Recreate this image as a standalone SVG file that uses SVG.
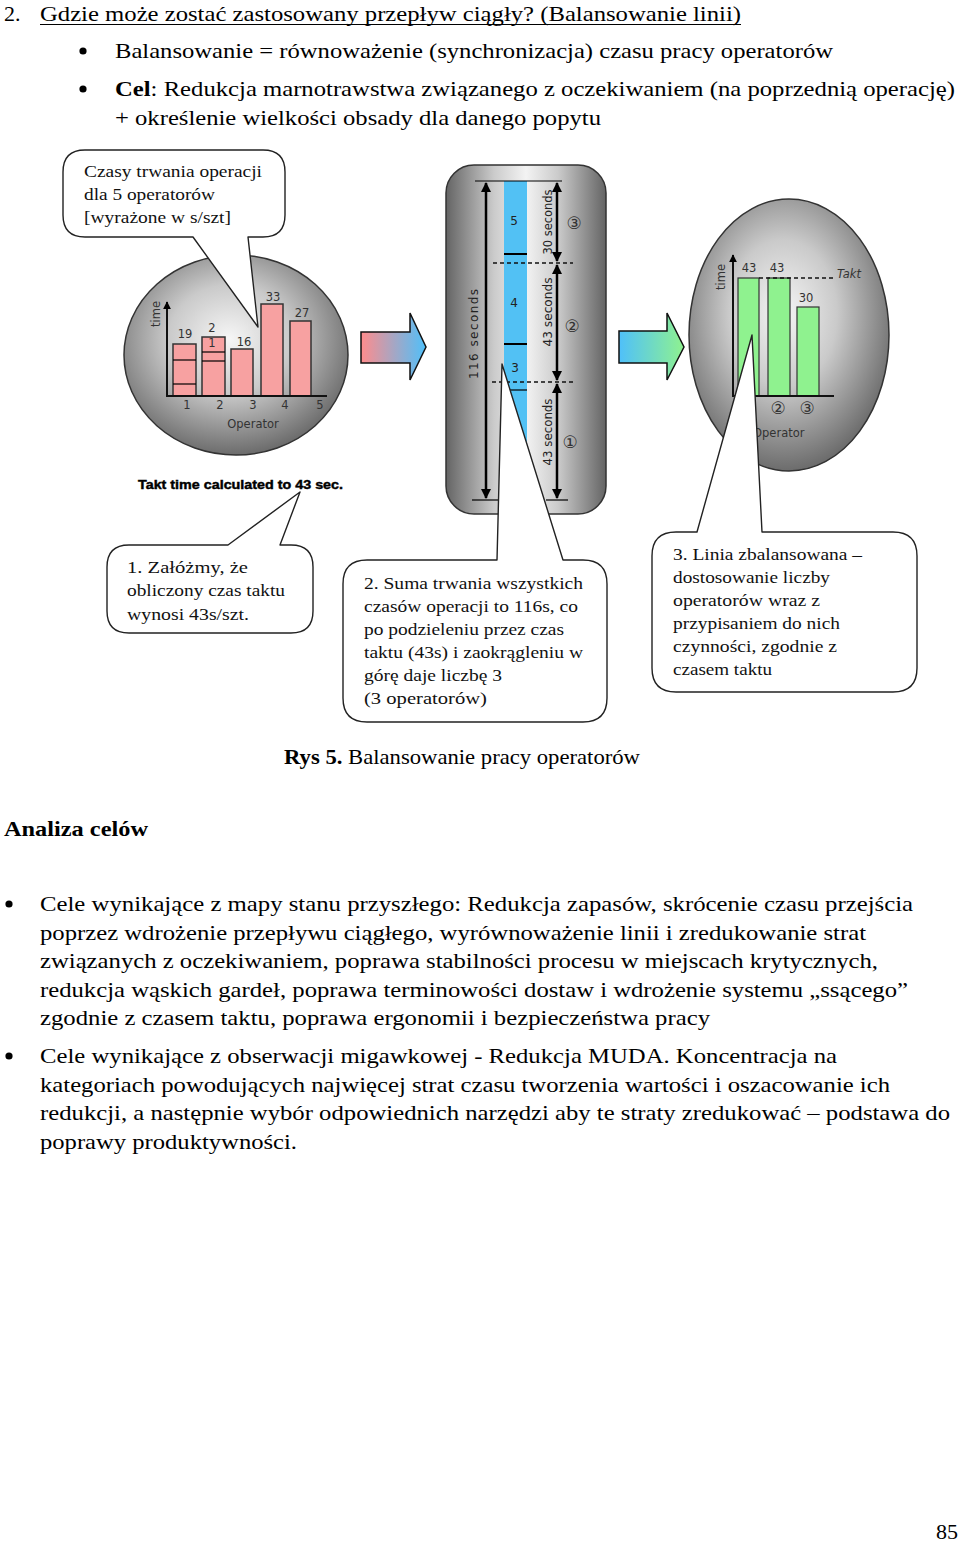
<svg xmlns="http://www.w3.org/2000/svg" width="960" height="1545" viewBox="0 0 960 1545">
<style>
.body{font-family:"Liberation Serif",serif;font-size:22px;fill:#000}
.bold{font-weight:bold}
.co{font-family:"Liberation Serif",serif;font-size:17px;fill:#111}
.ch{font-family:"DejaVu Sans",sans-serif;font-size:11.5px;fill:#333}
.dim{font-family:"DejaVu Sans",sans-serif;font-size:12px;fill:#222}
.circ{font-family:"DejaVu Sans",sans-serif;font-size:17px;fill:#333}
.callout{fill:#fff;stroke:#222;stroke-width:1.4;stroke-linejoin:round}
.axis{stroke:#111;stroke-width:2;fill:none}
.pink{fill:#f7a1a1;stroke:#333;stroke-width:1.5}
.green{fill:#8ff28f;stroke:#333;stroke-width:1.2}
.dash{stroke:#111;stroke-width:1.5;stroke-dasharray:4 3;fill:none}
.dimline{stroke:#000;stroke-width:2.5;fill:none}
.thin{stroke:#000;stroke-width:1.2;fill:none}
</style>
<defs>
<radialGradient id="gCircle" cx="0.47" cy="0.42" r="0.6">
<stop offset="0" stop-color="#f6f6f6"/>
<stop offset="0.45" stop-color="#cacaca"/>
<stop offset="1" stop-color="#666666"/>
</radialGradient>
<linearGradient id="gPanel" x1="0" y1="0" x2="1" y2="0">
<stop offset="0" stop-color="#646464"/>
<stop offset="0.3" stop-color="#cbcbcb"/>
<stop offset="0.5" stop-color="#f3f3f3"/>
<stop offset="0.7" stop-color="#cbcbcb"/>
<stop offset="1" stop-color="#646464"/>
</linearGradient>
<linearGradient id="gArrow1" x1="0" y1="0" x2="1" y2="0">
<stop offset="0" stop-color="#ff8c8c"/>
<stop offset="1" stop-color="#4fc0fa"/>
</linearGradient>
<linearGradient id="gArrow2" x1="0" y1="0" x2="1" y2="0">
<stop offset="0" stop-color="#4fc0fa"/>
<stop offset="1" stop-color="#8ff28f"/>
</linearGradient>
<marker id="ah" viewBox="0 0 10 10" refX="9" refY="5" markerWidth="4" markerHeight="4" orient="auto-start-reverse">
<path d="M0,0 L10,5 L0,10 Z" fill="#000"/>
</marker>
</defs>

<!-- header text -->
<g id="header">
<text class="body" x="4" y="21">2.</text>
<text class="body" x="40" y="21" textLength="701" lengthAdjust="spacingAndGlyphs">Gdzie może zostać zastosowany przepływ ciągły? (Balansowanie linii)</text>
<line x1="40" y1="24.5" x2="741" y2="24.5" stroke="#000" stroke-width="1.2"/>
<circle cx="83" cy="51" r="3.6" fill="#000"/>
<text class="body" x="115" y="58" textLength="718" lengthAdjust="spacingAndGlyphs">Balansowanie = równoważenie (synchronizacja) czasu pracy operatorów</text>
<circle cx="83" cy="89" r="3.6" fill="#000"/>
<text class="body" x="115" y="96" textLength="840" lengthAdjust="spacingAndGlyphs"><tspan class="bold">Cel</tspan>: Redukcja marnotrawstwa związanego z oczekiwaniem (na poprzednią operację)</text>
<text class="body" x="115" y="125" textLength="486" lengthAdjust="spacingAndGlyphs">+ określenie wielkości obsady dla danego popytu</text>
</g>

<!-- left chart circle -->
<g id="chart-before">
<ellipse cx="236" cy="355" rx="112" ry="100" fill="url(#gCircle)" stroke="#333" stroke-width="1.5"/>
<rect class="pink" x="173" y="344" width="23" height="52"/>
<line class="thin" x1="173" y1="360" x2="196" y2="360" stroke-width="1.5"/>
<line class="thin" x1="173" y1="384" x2="196" y2="384" stroke-width="1.5"/>
<rect class="pink" x="202" y="337" width="23" height="59"/>
<line class="thin" x1="202" y1="352" x2="225" y2="352" stroke-width="1.5"/>
<line class="thin" x1="202" y1="361" x2="225" y2="361" stroke-width="1.5"/>
<rect class="pink" x="231" y="349" width="22" height="47"/>
<rect class="pink" x="261" y="304" width="22" height="92"/>
<rect class="pink" x="290" y="321" width="21" height="75"/>
<line class="axis" x1="167" y1="396" x2="167" y2="302" marker-end="url(#ah)"/>
<line class="axis" x1="166" y1="396" x2="327" y2="396"/>
<text class="ch" x="185" y="338" text-anchor="middle">19</text>
<text class="ch" x="212" y="332" text-anchor="middle">2</text>
<text class="ch" x="212" y="347" text-anchor="middle">1</text>
<text class="ch" x="244" y="346" text-anchor="middle">16</text>
<text class="ch" x="273" y="301" text-anchor="middle">33</text>
<text class="ch" x="302" y="317" text-anchor="middle">27</text>
<text class="ch" x="187" y="409" text-anchor="middle" font-size="13">1</text>
<text class="ch" x="220" y="409" text-anchor="middle" font-size="13">2</text>
<text class="ch" x="253" y="409" text-anchor="middle" font-size="13">3</text>
<text class="ch" x="285" y="409" text-anchor="middle" font-size="13">4</text>
<text class="ch" x="320" y="409" text-anchor="middle" font-size="13">5</text>
<text class="ch" x="253" y="428" text-anchor="middle" font-size="14">Operator</text>
<text class="ch" x="160" y="314" text-anchor="middle" font-size="14" transform="rotate(-90 160 314)">time</text>
<text x="138" y="489" font-family="Liberation Sans,sans-serif" font-weight="bold" font-size="12" fill="#000" stroke="#000" stroke-width="0.4" textLength="205" lengthAdjust="spacingAndGlyphs">Takt time calculated to 43 sec.</text>
</g>

<!-- block arrows -->
<g id="arrow-1">
<g stroke="url(#gArrow1)" stroke-width="1.3">
<line x1="361" y1="317" x2="424" y2="317"/><line x1="361" y1="320" x2="424" y2="320"/>
<line x1="361" y1="324" x2="424" y2="324"/><line x1="361" y1="327" x2="424" y2="327"/>
<line x1="361" y1="367" x2="424" y2="367"/><line x1="361" y1="370" x2="424" y2="370"/>
<line x1="361" y1="374" x2="424" y2="374"/><line x1="361" y1="377" x2="424" y2="377"/>
</g>
<polygon points="361,332 410,332 410,313 426,347 410,380 410,363 361,363" fill="url(#gArrow1)" stroke="#111" stroke-width="1.5"/>
</g>
<g id="arrow-2">
<g stroke="url(#gArrow2)" stroke-width="1.3">
<line x1="619" y1="317" x2="682" y2="317"/><line x1="619" y1="320" x2="682" y2="320"/>
<line x1="619" y1="324" x2="682" y2="324"/><line x1="619" y1="327" x2="682" y2="327"/>
<line x1="619" y1="367" x2="682" y2="367"/><line x1="619" y1="370" x2="682" y2="370"/>
<line x1="619" y1="374" x2="682" y2="374"/><line x1="619" y1="377" x2="682" y2="377"/>
</g>
<polygon points="619,331 667,331 667,313 684,347 667,380 667,363 619,363" fill="url(#gArrow2)" stroke="#111" stroke-width="1.5"/>
</g>

<!-- middle panel -->
<g id="panel-sum">
<rect x="446" y="165" width="160" height="349" rx="28" fill="url(#gPanel)" stroke="#333" stroke-width="1.5"/>
<rect x="504" y="181" width="23" height="300" fill="#52c1f4"/>
<line x1="504" y1="254" x2="527" y2="254" stroke="#000" stroke-width="2"/>
<line x1="504" y1="344" x2="527" y2="344" stroke="#000" stroke-width="2"/>
<line x1="504" y1="390" x2="527" y2="390" stroke="#000" stroke-width="1.2"/>
<text class="dim" x="514" y="225" text-anchor="middle" font-size="13">5</text>
<text class="dim" x="514" y="307" text-anchor="middle" font-size="13">4</text>
<text class="dim" x="515" y="372" text-anchor="middle" font-size="13">3</text>
<line class="thin" x1="475" y1="181" x2="562" y2="181"/>
<line class="thin" x1="472" y1="500" x2="500" y2="500"/>
<line class="thin" x1="546" y1="500" x2="568" y2="500"/>
<line class="dash" x1="493" y1="263" x2="573" y2="263" stroke-width="1.2"/>
<line class="dash" x1="492" y1="382" x2="573" y2="382" stroke-width="1.2"/>
<line class="dimline" x1="486" y1="183" x2="486" y2="498" marker-start="url(#ah)" marker-end="url(#ah)"/>
<line class="dimline" x1="557" y1="183" x2="557" y2="261" stroke-width="2" marker-start="url(#ah)" marker-end="url(#ah)"/>
<line class="dimline" x1="557" y1="265" x2="557" y2="380" stroke-width="2" marker-start="url(#ah)" marker-end="url(#ah)"/>
<line class="dimline" x1="557" y1="384" x2="557" y2="498" stroke-width="2" marker-start="url(#ah)" marker-end="url(#ah)"/>
<text class="dim" x="478" y="334" text-anchor="middle" font-size="13.5" textLength="90" lengthAdjust="spacing" transform="rotate(-90 478 334)">116 seconds</text>
<text class="dim" x="552" y="222" text-anchor="middle" textLength="65" lengthAdjust="spacingAndGlyphs" transform="rotate(-90 552 222)">30 seconds</text>
<text class="dim" x="552" y="312" text-anchor="middle" textLength="69" lengthAdjust="spacingAndGlyphs" transform="rotate(-90 552 312)">43 seconds</text>
<text class="dim" x="552" y="432" text-anchor="middle" textLength="67" lengthAdjust="spacingAndGlyphs" transform="rotate(-90 552 432)">43 seconds</text>
<text class="circ" x="574" y="229" text-anchor="middle">③</text>
<text class="circ" x="572" y="332" text-anchor="middle">②</text>
<text class="circ" x="570" y="448" text-anchor="middle">①</text>
</g>

<!-- right chart -->
<g id="chart-after">
<ellipse cx="789" cy="335" rx="100" ry="136" fill="url(#gCircle)" stroke="#333" stroke-width="1.5"/>
<rect class="green" x="738" y="278" width="21" height="118"/>
<rect class="green" x="768" y="278" width="22" height="118"/>
<rect class="green" x="797" y="307" width="22" height="89"/>
<line class="dash" x1="759" y1="278" x2="834" y2="278"/>
<line class="axis" x1="733" y1="396" x2="733" y2="255" marker-end="url(#ah)"/>
<line class="axis" x1="732" y1="396" x2="834" y2="396"/>
<text class="ch" x="749" y="272" text-anchor="middle">43</text>
<text class="ch" x="777" y="272" text-anchor="middle">43</text>
<text class="ch" x="806" y="302" text-anchor="middle">30</text>
<text class="ch" x="837" y="278" font-style="italic" font-size="13">Takt</text>
<text class="ch" x="725" y="277" text-anchor="middle" font-size="14" transform="rotate(-90 725 277)">time</text>
<text class="circ" x="778" y="414" text-anchor="middle">②</text>
<text class="circ" x="807" y="414" text-anchor="middle">③</text>
<text class="ch" x="753" y="437" font-size="14">Operator</text>
</g>

<!-- callouts -->
<g id="callout-times">
<path class="callout" d="M85,150 H263 Q285,150 285,172 V215 Q285,237 263,237 H248 L258,327 L193,237 H85 Q63,237 63,215 V172 Q63,150 85,150 Z"/>
<text class="co" x="84" y="177" textLength="178" lengthAdjust="spacingAndGlyphs">Czasy trwania operacji</text>
<text class="co" x="84" y="200" textLength="131" lengthAdjust="spacingAndGlyphs">dla 5 operatorów</text>
<text class="co" x="84" y="223" textLength="147" lengthAdjust="spacingAndGlyphs">[wyrażone w s/szt]</text>
</g>
<g id="callout-1">
<path class="callout" d="M129,545 H228 L300,492 L280,545 H291 Q313,545 313,567 V611 Q313,633 291,633 H129 Q107,633 107,611 V567 Q107,545 129,545 Z"/>
<text class="co" x="127" y="573" textLength="121" lengthAdjust="spacingAndGlyphs">1. Załóżmy, że</text>
<text class="co" x="127" y="596" textLength="158" lengthAdjust="spacingAndGlyphs">obliczony czas taktu</text>
<text class="co" x="127" y="620" textLength="122" lengthAdjust="spacingAndGlyphs">wynosi 43s/szt.</text>
</g>
<g id="callout-2">
<path class="callout" d="M367,560 H497 L502,364 L563,560 H583 Q607,560 607,584 V698 Q607,722 583,722 H367 Q343,722 343,698 V584 Q343,560 367,560 Z"/>
<text class="co" x="364" y="589" textLength="219" lengthAdjust="spacingAndGlyphs">2. Suma trwania wszystkich</text>
<text class="co" x="364" y="612" textLength="214" lengthAdjust="spacingAndGlyphs">czasów operacji to 116s, co</text>
<text class="co" x="364" y="635" textLength="200" lengthAdjust="spacingAndGlyphs">po podzieleniu przez czas</text>
<text class="co" x="364" y="658" textLength="219" lengthAdjust="spacingAndGlyphs">taktu (43s) i zaokrągleniu w</text>
<text class="co" x="364" y="681" textLength="138" lengthAdjust="spacingAndGlyphs">górę daje liczbę 3</text>
<text class="co" x="364" y="704" textLength="123" lengthAdjust="spacingAndGlyphs">(3 operatorów)</text>
</g>
<g id="callout-3">
<path class="callout" d="M676,532 H697 L752,335 L762,532 H893 Q917,532 917,556 V668 Q917,692 893,692 H676 Q652,692 652,668 V556 Q652,532 676,532 Z"/>
<text class="co" x="673" y="560" textLength="189" lengthAdjust="spacingAndGlyphs">3. Linia zbalansowana –</text>
<text class="co" x="673" y="583" textLength="157" lengthAdjust="spacingAndGlyphs">dostosowanie liczby</text>
<text class="co" x="673" y="606" textLength="147" lengthAdjust="spacingAndGlyphs">operatorów wraz z</text>
<text class="co" x="673" y="629" textLength="167" lengthAdjust="spacingAndGlyphs">przypisaniem do nich</text>
<text class="co" x="673" y="652" textLength="164" lengthAdjust="spacingAndGlyphs">czynności, zgodnie z</text>
<text class="co" x="673" y="675" textLength="99" lengthAdjust="spacingAndGlyphs">czasem taktu</text>
</g>
<g id="connectors"></g>

<!-- caption and body -->
<g id="caption">
<text class="body" x="284" y="764" textLength="356" lengthAdjust="spacingAndGlyphs"><tspan class="bold">Rys 5.</tspan> Balansowanie pracy operatorów</text>
<text class="body bold" x="4" y="836" textLength="144" lengthAdjust="spacingAndGlyphs">Analiza celów</text>
</g>
<g id="body-text">
<circle cx="9" cy="904" r="3.6" fill="#000"/>
<text class="body" x="40" y="911" textLength="873" lengthAdjust="spacingAndGlyphs">Cele wynikające z mapy stanu przyszłego: Redukcja zapasów, skrócenie czasu przejścia</text>
<text class="body" x="40" y="940" textLength="826" lengthAdjust="spacingAndGlyphs">poprzez wdrożenie przepływu ciągłego, wyrównoważenie linii i zredukowanie strat</text>
<text class="body" x="40" y="968" textLength="838" lengthAdjust="spacingAndGlyphs">związanych z oczekiwaniem, poprawa stabilności procesu w miejscach krytycznych,</text>
<text class="body" x="40" y="997" textLength="868" lengthAdjust="spacingAndGlyphs">redukcja wąskich gardeł, poprawa terminowości dostaw i wdrożenie systemu „ssącego”</text>
<text class="body" x="40" y="1025" textLength="670" lengthAdjust="spacingAndGlyphs">zgodnie z czasem taktu, poprawa ergonomii i bezpieczeństwa pracy</text>
<circle cx="9" cy="1056" r="3.6" fill="#000"/>
<text class="body" x="40" y="1063" textLength="797" lengthAdjust="spacingAndGlyphs">Cele wynikające z obserwacji migawkowej - Redukcja MUDA. Koncentracja na</text>
<text class="body" x="40" y="1092" textLength="850" lengthAdjust="spacingAndGlyphs">kategoriach powodujących najwięcej strat czasu tworzenia wartości i oszacowanie ich</text>
<text class="body" x="40" y="1120" textLength="910" lengthAdjust="spacingAndGlyphs">redukcji, a następnie wybór odpowiednich narzędzi aby te straty zredukować – podstawa do</text>
<text class="body" x="40" y="1149" textLength="257" lengthAdjust="spacingAndGlyphs">poprawy produktywności.</text>
<text class="body" x="958" y="1539" text-anchor="end" font-size="21">85</text>
</g>
</svg>
